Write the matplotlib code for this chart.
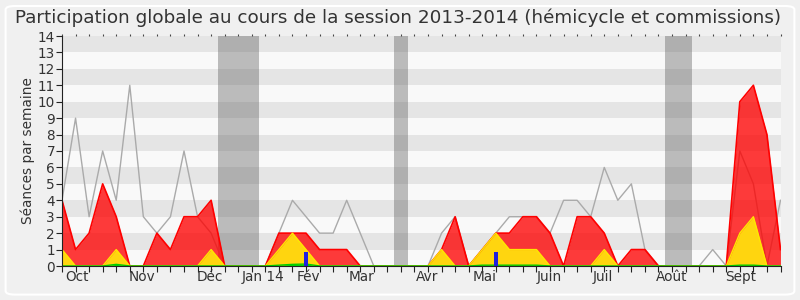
import numpy as np
import matplotlib.pyplot as plt
from matplotlib.patches import FancyBboxPatch

# weekly values, session 2013-2014 (54 weeks)
weeks = np.arange(54)

# total presence (hemicycle + commissions)
presences = [4, 1, 2, 5, 3, 0, 0, 2, 1, 3, 3, 4, 0, 0, 0, 0, 2, 2, 2, 1,
             1, 1, 0, 0, 0, 0, 0, 0, 1, 3, 0, 1, 2, 2, 3, 3, 2, 0, 3, 3,
             2, 0, 1, 1, 0, 0, 0, 0, 0, 0, 10, 11, 8, 1]
# presence in hemicycle
hemicycle = [1, 0, 0, 0, 1, 0, 0, 0, 0, 0, 0, 1, 0, 0, 0, 0, 1, 2, 1, 0,
             0, 0, 0, 0, 0, 0, 0, 0, 1, 0, 0, 1, 2, 1, 1, 1, 0, 0, 0, 0,
             1, 0, 0, 0, 0, 0, 0, 0, 0, 0, 2, 3, 0, 0]
# interventions
interventions = [0, 0, 0, 0, 0.1, 0, 0, 0, 0, 0, 0, 0, 0, 0, 0, 0, 0.05, 0.1, 0.12, 0,
                 0, 0, 0, 0, 0, 0, 0, 0, 0, 0, 0, 0.05, 0.05, 0.05, 0.05, 0.05, 0, 0, 0, 0,
                 0, 0, 0, 0, 0, 0, 0, 0, 0, 0, 0.05, 0.05, 0, 0]
# oral questions
questions = [0] * 54
questions[18] = 0.87
questions[32] = 0.87
# median of all deputies
mediane = [4, 9, 3, 7, 4, 11, 3, 2, 3, 7, 3, 2, 0, 0, 0, 0, 2, 4, 3, 2,
           2, 4, 2, 0, 0, 0, 0, 0, 2, 3, 0, 1, 2, 3, 3, 3, 2, 4, 4, 3,
           6, 4, 5, 1, 0, 0, 0, 0, 1, 0, 7, 5, 0, 4]

# parliamentary holidays (in weeks)
vacances = [(11.5, 14.5), (24.5, 25.5), (44.5, 46.5)]

mois = ['Oct', 'Nov', 'Déc', 'Jan 14', 'Fév', 'Mar', 'Avr', 'Mai', 'Juin', 'Juil', 'Août', 'Sept']
mois_pos = [1.13, 5.9, 10.9, 14.85, 18.2, 22.1, 26.96, 31.2, 35.96, 39.9, 44.96, 50.06]

fig = plt.figure(figsize=(8, 3), dpi=100, facecolor='#f0f0f0')
fig.patches.append(FancyBboxPatch((0.007, 0.018), 0.986, 0.962,
                                  boxstyle='round,pad=0,rounding_size=0.012',
                                  transform=fig.transFigure, fc='none', ec='white', lw=1.5))
ax = fig.add_axes([62 / 800, 34 / 300, 718.5 / 800, 230 / 300])

#background stripes
ax.set_facecolor('#f9f9f9')
for k in range(7):
    ax.axhspan(2 * k + 1, 2 * k + 2, color='#e5e5e5', lw=0, zorder=0)
for a, b in vacances:
    ax.axvspan(a, b, color='#5e5e5e', alpha=0.4, lw=0, zorder=1)

ax.plot(weeks, mediane, color='#aaaaaa', lw=1, zorder=2)
ax.fill_between(weeks, presences, color='#ff0000', alpha=0.77, lw=0, zorder=3)
ax.plot(weeks, presences, color='#ff0000', lw=1.2, zorder=3)
ax.fill_between(weeks, hemicycle, color='#ffd50f', lw=0, zorder=4)
ax.plot(weeks, hemicycle, color='#ffe800', lw=1, zorder=4)
ax.fill_between(weeks, interventions, color='#00dd00', lw=0, zorder=5)
ax.plot(weeks, interventions, color='#00cc00', lw=1, zorder=5)
ax.bar(weeks, questions, width=0.26, color='#2020dd', zorder=6)

ax.set_xlim(0, 53)
ax.set_ylim(0, 14)
for s in ['top', 'right']:
    ax.spines[s].set_visible(False)
for s in ['left', 'bottom']:
    ax.spines[s].set_color('#222222')
    ax.spines[s].set_zorder(7)

ax.set_yticks(range(15))
ax.tick_params(axis='y', labelsize=9.8, length=4, color='#222222', labelcolor='#333333', pad=1)
ax.set_xticks(weeks)
ax.set_xticklabels([])
ax.tick_params(axis='x', which='major', length=4, color='#222222')
ax.set_xticks(mois_pos, minor=True)
ax.set_xticklabels(mois, minor=True)
ax.tick_params(axis='x', which='minor', length=0, labelsize=9.8, labelcolor='#333333', pad=3)

# small dotted marks on top
top = ax.secondary_xaxis('top')
top.set_xticks(weeks)
top.set_xticklabels([])
top.tick_params(length=1.5, width=0.8, color='#444444')
top.spines['top'].set_visible(False)

ax.set_ylabel('Séances par semaine', fontsize=9.8, color='#333333', labelpad=2)
fig.text(0.4975, 0.94, 'Participation globale au cours de la session 2013-2014 (hémicycle et commissions)',
         ha='center', va='center', fontsize=13.2, color='#333333')

fig.savefig('out.png', dpi=100, facecolor=fig.get_facecolor())
